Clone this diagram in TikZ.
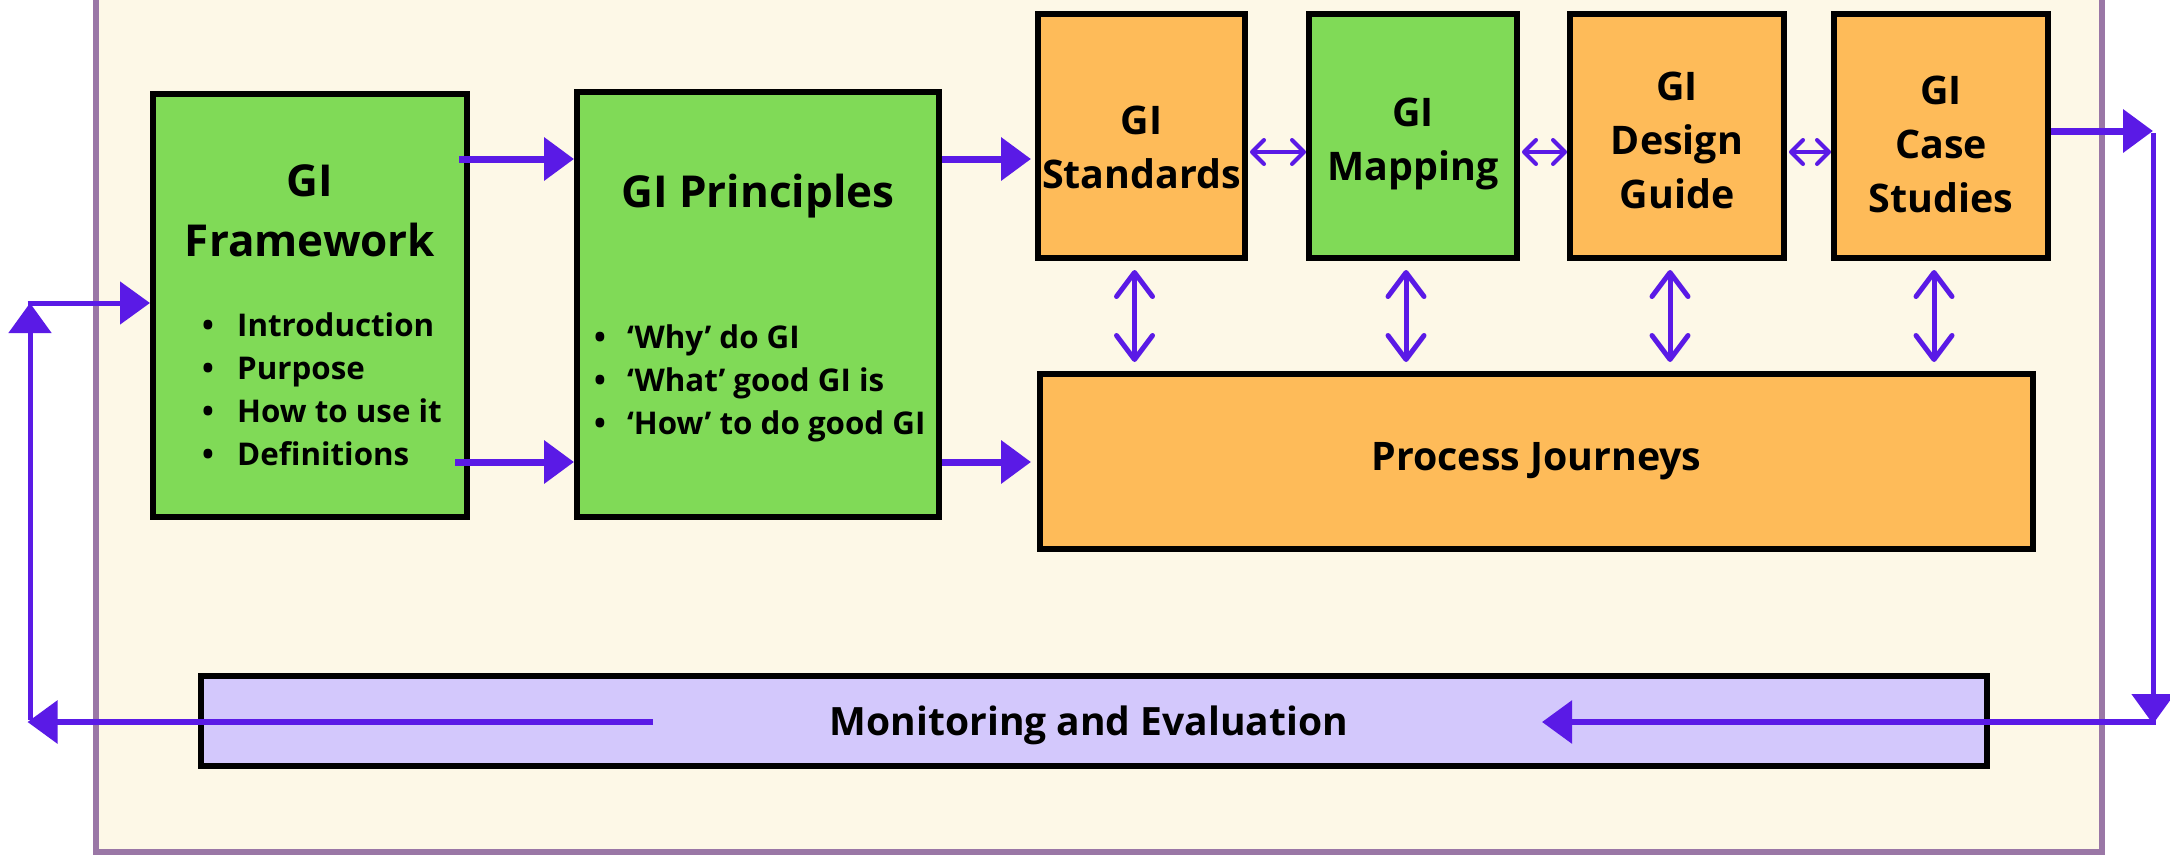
\documentclass[tikz,border=0pt]{standalone}
\usepackage{fontspec}
\setmainfont{Open Sans}
\usetikzlibrary{arrows.meta,calc}
\definecolor{cream}{HTML}{FDF8E7}
\definecolor{framec}{HTML}{9A77A6}
\definecolor{gfill}{HTML}{80DA57}
\definecolor{ofill}{HTML}{FEBB59}
\definecolor{pfill}{HTML}{D3C8FC}
\definecolor{arrc}{HTML}{5A1AE6}
\newcommand\mybul[1]{\makebox[#1][l]{•}}
\begin{document}
\begin{tikzpicture}[x=1pt,y=-1pt,
  box/.style={draw=black,line width=6pt,inner sep=0pt,align=center,font=\bfseries},
  gbox/.style={box,fill=gfill},
  obox/.style={box,fill=ofill},
  toptext/.style={font=\bfseries\fontsize{39.4}{54}\selectfont,align=center,inner sep=0pt},
  titlefont/.style={font=\bfseries\fontsize{44}{60}\selectfont,align=center,inner sep=0pt},
  bulfont/.style={font=\bfseries\fontsize{31.3}{43}\selectfont,align=left,inner sep=0pt,anchor=west},
  bigarrow/.style={draw=arrc,line width=7pt,-{Triangle[length=30pt,width=42pt]}},
  loopline/.style={draw=arrc,line width=5pt},
  smallda/.style={draw=arrc,line width=4pt,line cap=round,{Straight Barb[length=12pt,width=24pt,round]}-{Straight Barb[length=12pt,width=24pt,round]}},
  vertda/.style={draw=arrc,line width=5pt,line cap=round,shorten <=9pt,shorten >=9pt,{Straight Barb[length=24pt,width=36pt,round]}-{Straight Barb[length=24pt,width=36pt,round]}}
]
\useasboundingbox (0,0) rectangle (2170,857);
\clip (0,0) rectangle (2170,857);
\fill[white] (0,0) rectangle (2170,857);
% outer frame
\draw[framec,line width=6pt,fill=cream] (96,-20) rectangle (2102,852);

% boxes
\node[gbox,minimum width=314pt,minimum height=423pt] (fw) at (310,305.5) {};
\node[gbox,minimum width=362pt,minimum height=425pt] (pr) at (758,304.5) {};
\node[obox,minimum width=207pt,minimum height=244pt] (st) at (1141.5,136) {};
\node[gbox,minimum width=208pt,minimum height=244pt] (mp) at (1413,136) {};
\node[obox,minimum width=214pt,minimum height=244pt] (dg) at (1677,136) {};
\node[obox,minimum width=214pt,minimum height=244pt] (cs) at (1941,136) {};
\node[obox,minimum width=993pt,minimum height=175pt] (pj) at (1536.5,461.5) {};
\node[box,fill=pfill,minimum width=1786pt,minimum height=90pt] (me) at (1094,721) {};

% texts
\node[toptext] (stt) at ($(st.center)+(0,11)$) {GI\\Standards};
\node[toptext] (mpt) at ($(mp.center)+(0,8)$) {GI\\Mapping};
\node[toptext] (dgt) at ($(dg.center)+(0,4)$) {GI\\Design\\Guide};
\node[toptext] (cst) at ($(cs.center)+(0,8)$) {GI\\Case\\Studies};
\node[font=\bfseries\fontsize{39.3}{50}\selectfont,inner sep=0pt] (pjt) at (pj.center) {Process Journeys};
\node[font=\bfseries\fontsize{39}{50}\selectfont,inner sep=0pt] (met) at ($(me.center)+(-5,4)$) {Monitoring and Evaluation};

\node[titlefont] (fwt) at (310,211) {GI\\Framework};
\node[bulfont] (fwb) at (202,389.5) {\mybul{35pt}Introduction\\\mybul{35pt}Purpose\\\mybul{35pt}How to use it\\\mybul{35pt}Definitions};
\node[titlefont] (prt) at (758,196.5) {GI Principles};
\node[bulfont] (prb) at (594,383) {\mybul{33pt}‘Why’ do GI\\\mybul{33pt}‘What’ good GI is\\\mybul{33pt}‘How’ to do good GI};

% helper coordinates
\coordinate (ya) at (0,159);
\coordinate (yb) at (0,462);
\coordinate (yc) at (0,152);
\coordinate (cr1) at (2153,131);
\coordinate (cr2) at (2153,722);
\coordinate (cl1) at (30,722);
\coordinate (cl2) at (30,303);
\coordinate (mstart) at (653,722);

% main arrows
\draw[bigarrow] ([xshift=-11pt]fw.east |- ya) -- (pr.west |- ya);
\draw[bigarrow] ([xshift=-15pt]fw.east |- yb) -- (pr.west |- yb);
\draw[bigarrow] (pr.east |- ya) -- ([xshift=-4pt]st.west |- ya);
\draw[bigarrow] (pr.east |- yb) -- ([xshift=-6pt]pj.west |- yb);

% small double arrows between top boxes
\draw[smallda] ([xshift=2pt]st.east |- yc) -- (mp.west |- yc);
\draw[smallda] ([xshift=2pt]mp.east |- yc) -- (dg.west |- yc);
\draw[smallda] ([xshift=2pt]dg.east |- yc) -- (cs.west |- yc);

% vertical double arrows
\foreach \b in {st,mp,dg,cs}{
  \draw[vertda] ([xshift=-7pt]\b.south) -- ([xshift=-7pt]\b.south |- pj.north);
}

% feedback loop
\draw[bigarrow] (cs.east |- cr1) -- (cr1);
\draw[loopline,-{Triangle[length=30pt,width=42pt]}] ([yshift=-2pt]cr1) -- ([yshift=-2pt]cr2);
\draw[draw=arrc,line width=6pt,-{Triangle[length=30pt,width=42pt]}] ([xshift=2.5pt]cr2) -- ([xshift=-448pt]me.east |- cr2);
\draw[draw=arrc,line width=6pt,-{Triangle[length=30pt,width=42pt]}] (mstart) -- ([xshift=-2.5pt]cl1);
\draw[loopline,-{Triangle[length=30pt,width=42pt]}] ([yshift=2.5pt]cl1) -- (cl2);
\draw[loopline,-{Triangle[length=30pt,width=42pt]}] ([xshift=-2.5pt]cl2) -- (fw.west |- cl2);
\end{tikzpicture}
\end{document}
